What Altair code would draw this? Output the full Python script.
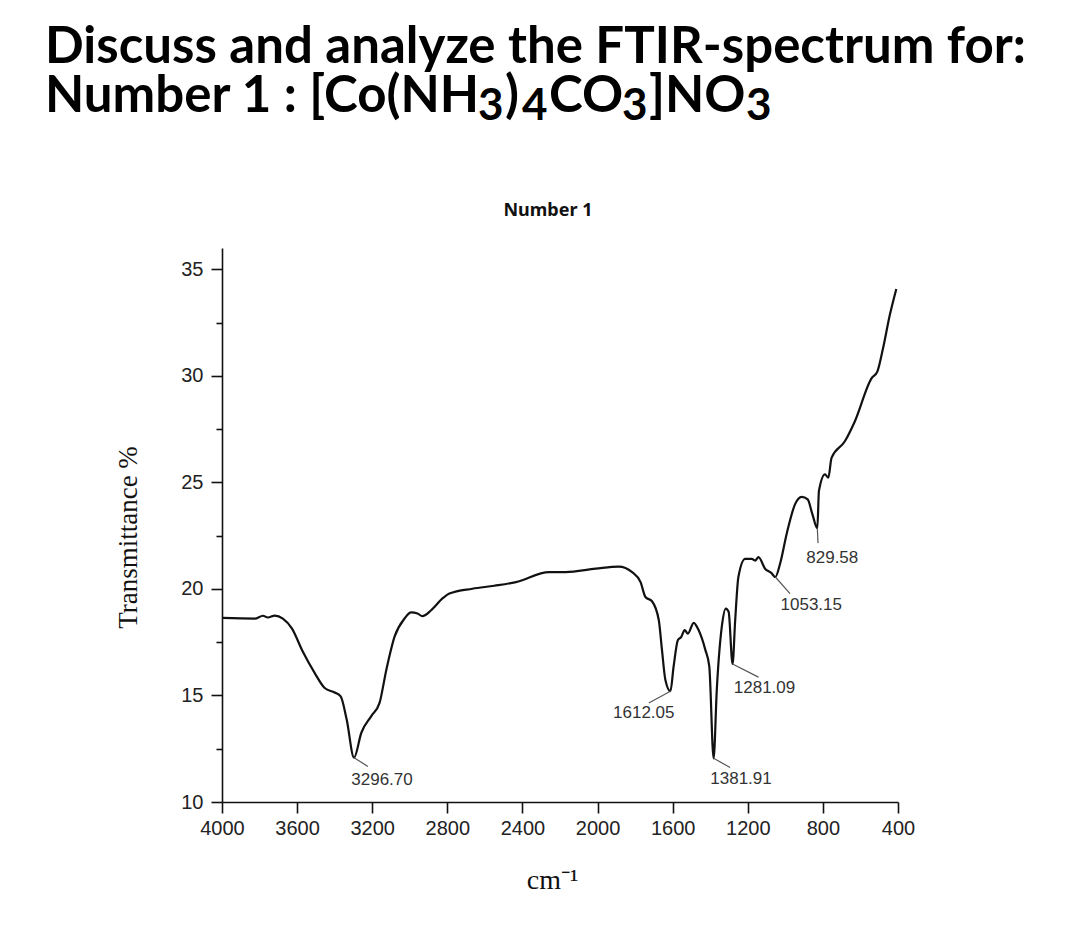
import altair as alt
import pandas as pd

# ---- spectrum ----
wavenumber = [4000, 3825, 3782, 3756, 3719, 3676, 3628, 3570, 3506, 3453,
              3400, 3368, 3336, 3296.7, 3258, 3205, 3161, 3125, 3081, 3028,
              2993, 2959, 2933, 2886, 2821, 2789, 2667, 2550, 2435, 2258, 2170,
              2010, 1887, 1816, 1771, 1745, 1710, 1674, 1657, 1639, 1612.05,
              1595, 1572, 1554, 1536, 1519, 1488, 1462, 1426, 1405, 1381.91,
              1365, 1338, 1317, 1302, 1281.09, 1267, 1250, 1214, 1179, 1161,
              1143, 1108, 1075, 1053.15, 1028, 993, 948, 913, 881, 856,
              829.58, 821, 789, 771, 754, 683, 630, 541, 510, 480,
              444, 409]
transmittance = [18.64, 18.61, 18.74, 18.66, 18.75, 18.61, 18.15, 17.06, 16.05, 15.35,
                 15.14, 14.96, 13.87, 12.08, 13.25, 14.03, 14.65, 16.2, 17.76, 18.61,
                 18.9, 18.85, 18.72, 19.0, 19.59, 19.78, 20.01, 20.15, 20.32, 20.79, 20.79,
                 20.95, 21.05, 20.79, 20.32, 19.62, 19.42, 18.54, 17.14, 15.74, 15.2,
                 16.36, 17.6, 17.75, 18.07, 17.9, 18.41, 18.07, 17.14, 16.36, 12.05,
                 15.27, 18.25, 19.08, 18.93, 16.48, 18.54, 20.56, 21.41, 21.41, 21.33,
                 21.49, 20.95, 20.75, 20.56, 21.18, 22.58, 23.98, 24.32, 24.2, 23.51,
                 22.85, 24.6, 25.38, 25.22, 26.15, 26.93, 27.86, 29.88, 30.2, 31.28,
                 32.84, 34.08]

# ---- peak annotations ----
peak_labels = ["3296.70", "1612.05", "1381.91", "1281.09", "1053.15", "829.58"]
peak_x = [3296.7, 1612.05, 1381.91, 1281.09, 1053.15, 829.58]
peak_y = [12.08, 15.2, 12.05, 16.48, 20.56, 22.85]
leader_x2 = [3223, 1727, 1294, 1143, 975, 826]
leader_y2 = [11.67, 14.65, 11.62, 15.86, 19.78, 22.15]
label_x = [3148, 1754, 1236, 1111, 862, 750]
label_y = [11.03, 14.2, 11.07, 15.36, 19.24, 21.43]

# ---- axes ----
x_ticks = list(range(400, 4001, 200))
y_ticks = [10, 12.5, 15, 17.5, 20, 22.5, 25, 27.5, 30, 32.5, 35]

# ---- text ----
heading_line1 = "Discuss and analyze the FTIR-spectrum for:"
heading_line2_parts = ["Number 1 : [Co(NH", "3", ")", "4", "CO", "3", "]NO", "3"]
heading_line2_sub = [False, True, False, True, False, True, False, True]
heading_line2_x = [-177, 256, 283, 300, 327, 400, 427, 524]
chart_title = "Number 1"

spec_df = pd.DataFrame({"wavenumber": wavenumber, "transmittance": transmittance})
peaks_df = pd.DataFrame({"label": peak_labels, "px": peak_x, "py": peak_y,
                         "lx2": leader_x2, "ly2": leader_y2,
                         "tx": label_x, "ty": label_y})

x_scale = alt.Scale(domain=[400, 4000], reverse=True, nice=False, zero=False)
y_scale = alt.Scale(domain=[10, 36], nice=False, zero=False)

AX = "#111111"
x_axis = alt.Axis(
    values=x_ticks, format="d",
    labelExpr="datum.value % 400 === 0 ? datum.label : ''",
    tickSize={"condition": {"test": "datum.value % 400 === 0", "value": 11}, "value": 5},
    labelFont="Liberation Sans", labelFontSize=20, labelColor="#222222",
    labelPadding=5, labelOverlap=False, labelFlush=False,
    domainColor=AX, domainWidth=1.6, tickColor=AX, tickWidth=1.6, grid=False,
    title="cm\u207b\u00b9", titleFont="Liberation Serif", titleFontSize=28,
    titleFontWeight="normal", titleColor="#111111",
    titleX=330, titleY=86, titleBaseline="alphabetic", titleAlign="center",
)
y_axis = alt.Axis(
    values=y_ticks,
    labelExpr="datum.value % 5 === 0 ? datum.label : ''",
    tickSize={"condition": {"test": "datum.value % 5 === 0", "value": 11}, "value": 6},
    labelFont="Liberation Sans", labelFontSize=20, labelColor="#222222",
    labelPadding=8, labelOverlap=False, labelFlush=False,
    domainColor=AX, domainWidth=1.6, tickColor=AX, tickWidth=1.6, grid=False,
    title="Transmittance %", titleFont="Liberation Serif", titleFontSize=27,
    titleFontWeight="normal", titleColor="#111111",
    titleX=-94, titleY=289, titleBaseline="middle", titleAlign="center",
)

line = alt.Chart(spec_df).mark_line(color="#111111", strokeWidth=2.2, interpolate="monotone").encode(
    x=alt.X("wavenumber:Q", scale=x_scale, axis=x_axis),
    y=alt.Y("transmittance:Q", scale=y_scale, axis=y_axis),
)

leaders = alt.Chart(peaks_df).mark_rule(color="#555555", strokeWidth=1.2).encode(
    x=alt.X("px:Q", scale=x_scale), x2="lx2:Q",
    y=alt.Y("py:Q", scale=y_scale), y2="ly2:Q",
)

labels = alt.Chart(peaks_df).mark_text(
    font="Liberation Sans", fontSize=17, color="#333333", align="center", baseline="middle"
).encode(
    x=alt.X("tx:Q", scale=x_scale), y=alt.Y("ty:Q", scale=y_scale), text="label:N"
)


def text_item(s, x, y, size, font, weight, color, align="left", baseline="alphabetic"):
    return alt.Chart(pd.DataFrame({"t": [s]})).mark_text(
        align=align, baseline=baseline, font=font, fontSize=size,
        fontWeight=weight, color=color
    ).encode(text="t:N", x=alt.value(x), y=alt.value(y))


texts = [
    text_item(chart_title, 326, -37, 18, "Noto Sans", "bold", "#111111",
              align="center", baseline="middle"),
    text_item(heading_line1, -177, -185, 51, "Lato", "bold", "#000000"),
]
for part, sub, xx in zip(heading_line2_parts, heading_line2_sub, heading_line2_x):
    if sub:
        texts.append(text_item(part, xx, -128, 44, "Lato", "bold", "#000000"))
    else:
        texts.append(text_item(part, xx, -136, 51, "Lato", "bold", "#000000"))

chart = alt.layer(line, leaders, labels, *texts).properties(
    width=676, height=554,
    background="white",
    autosize=alt.AutoSizeParams(type="none"),
    padding={"left": 214, "top": 240, "right": 150, "bottom": 120},
).configure_view(stroke=None)

chart.save("out.html", embed_options={"renderer": "svg", "actions": False})
